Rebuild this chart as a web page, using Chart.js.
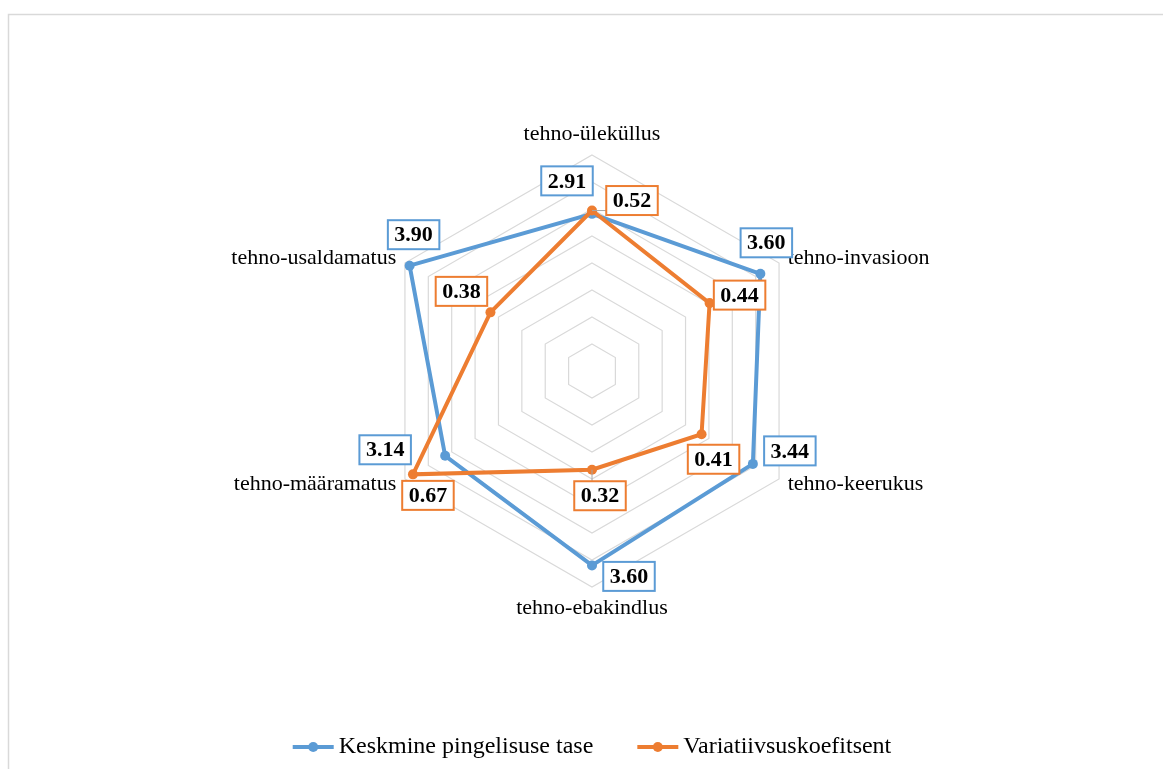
<!DOCTYPE html>
<html lang="et">
<head>
<meta charset="UTF-8">
<title>Tehnostressi tasemed</title>
<script src="https://cdn.jsdelivr.net/npm/chart.js"></script>
<style>
  body { margin: 0; background: #fff; }
  #wrap { width: 1163px; height: 769px; position: relative; }
</style>
</head>
<body>
<div id="wrap"><canvas id="radar"></canvas></div>
<script>
const categories = ['tehno-üleküllus', 'tehno-invasioon', 'tehno-keerukus', 'tehno-ebakindlus', 'tehno-määramatus', 'tehno-usaldamatus'];
const meanLevel = [2.91, 3.60, 3.44, 3.60, 3.14, 3.90];
const variation = [0.52, 0.44, 0.41, 0.32, 0.67, 0.38];
const seriesNames = ['Keskmine pingelisuse tase', 'Variatiivsuskoefitsent'];
// axis ranges: mean level on the main axis, coefficient on a hidden second one
const meanAxis = { min: 0, max: 4, step: 0.5 };
const variationAxis = { min: 0, max: 0.7 };

const BLUE = '#5B9BD5';
const ORANGE = '#ED7D31';
const GRID = '#D9D9D9';
const SERIF = '"Liberation Serif", "Times New Roman", serif';

// where each value box sits relative to its point: [dx, dy, leader line?]
const meanBoxPos = [[-25, -33, 0], [6, -31, 0], [37, -13, 0], [37, 11, 0], [-60, -6, 0], [4, -31, 0]];
const variationBoxPos = [[40, -10, 1], [30, -8, 0], [12, 25, 0], [8, 26, 1], [15, 21, 0], [-29, -21, 0]];

function drawValueBoxes(chart, dsIndex, values, pos, color) {
    const ctx = chart.ctx;
    const meta = chart.getDatasetMeta(dsIndex);
    ctx.font = 'bold 22px ' + SERIF;
    meta.data.forEach((pt, i) => {
        const text = values[i].toFixed(2);
        const w = ctx.measureText(text).width + 13;
        const h = 29;
        const cx = pt.x + pos[i][0];
        const cy = pt.y + pos[i][1];
        const x0 = cx - w / 2, y0 = cy - h / 2;
        if (pos[i][2]) {
            const qx = Math.min(Math.max(pt.x, x0), x0 + w);
            const qy = Math.min(Math.max(pt.y, y0), y0 + h);
            ctx.strokeStyle = '#A6A6A6';
            ctx.lineWidth = 1;
            ctx.beginPath();
            ctx.moveTo(pt.x, pt.y);
            ctx.lineTo(qx, qy);
            ctx.stroke();
        }
        ctx.fillStyle = '#fff';
        ctx.fillRect(x0, y0, w, h);
        ctx.strokeStyle = color;
        ctx.lineWidth = 2;
        ctx.strokeRect(x0, y0, w, h);
        ctx.fillStyle = '#000';
        ctx.textAlign = 'center';
        ctx.textBaseline = 'middle';
        ctx.fillText(text, cx, cy + 1);
    });
}

const decor = {
    id: 'decor',
    beforeDraw(chart) {
        const ctx = chart.ctx;
        ctx.save();
        ctx.strokeStyle = GRID;
        ctx.lineWidth = 1.5;
        ctx.strokeRect(8.5, 14.5, 1400, 1000);
        ctx.restore();
    },
    afterDatasetsDraw(chart) {
        const ctx = chart.ctx;
        const r = chart.scales.r;
        ctx.save();

        // category names around the web
        ctx.font = '22px ' + SERIF;
        ctx.fillStyle = '#000';
        ctx.textBaseline = 'middle';
        categories.forEach((name, i) => {
            const deg = Math.round(r.getIndexAngle(i) * 180 / Math.PI) % 360;
            let pad = 10, align = 'center';
            if (deg === 0 || deg === 180) pad = 21;
            else align = deg < 180 ? 'left' : 'right';
            const p = r.getPointPosition(i, r.drawingArea + pad);
            ctx.textAlign = align;
            ctx.fillText(name, p.x, p.y);
        });

        drawValueBoxes(chart, 0, meanLevel, meanBoxPos, BLUE);
        drawValueBoxes(chart, 1, variation, variationBoxPos, ORANGE);

        // legend
        ctx.font = '24px ' + SERIF;
        const colors = [BLUE, ORANGE];
        const lineLen = 41, gapText = 5, gapItem = 44, ly = 747;
        const widths = seriesNames.map(n => lineLen + gapText + ctx.measureText(n).width);
        const total = widths[0] + widths[1] + gapItem;
        let x = r.xCenter - total / 2;
        seriesNames.forEach((name, i) => {
            ctx.strokeStyle = colors[i];
            ctx.lineWidth = 4;
            ctx.beginPath();
            ctx.moveTo(x, ly);
            ctx.lineTo(x + lineLen, ly);
            ctx.stroke();
            ctx.fillStyle = colors[i];
            ctx.beginPath();
            ctx.arc(x + lineLen / 2, ly, 5, 0, Math.PI * 2);
            ctx.fill();
            ctx.fillStyle = '#000';
            ctx.textAlign = 'left';
            ctx.textBaseline = 'middle';
            ctx.fillText(name, x + lineLen + gapText, ly);
            x += widths[i] + gapItem;
        });
        ctx.restore();
    }
};

new Chart(document.getElementById('radar'), {
    type: 'radar',
    data: {
        labels: categories,
        datasets: [{
            label: seriesNames[0],
            data: meanLevel,
            rAxisID: 'r',
            borderColor: BLUE,
            backgroundColor: BLUE,
            pointBackgroundColor: BLUE,
            pointBorderWidth: 0,
            pointRadius: 5,
            borderWidth: 4,
            fill: false,
            order: 1
        }, {
            label: seriesNames[1],
            data: variation,
            rAxisID: 'r2',
            borderColor: ORANGE,
            backgroundColor: ORANGE,
            pointBackgroundColor: ORANGE,
            pointBorderWidth: 0,
            pointRadius: 5,
            borderWidth: 4,
            fill: false,
            order: 0
        }]
    },
    options: {
        responsive: true,
        maintainAspectRatio: false,
        animation: false,
        layout: { padding: { left: 376, right: 355, top: 155, bottom: 182 } },
        plugins: {
            legend: { display: false },
            tooltip: { enabled: false }
        },
        scales: {
            r: {
                min: meanAxis.min,
                max: meanAxis.max,
                ticks: { display: false, stepSize: meanAxis.step },
                grid: { color: GRID, lineWidth: 1.2 },
                angleLines: { display: false },
                pointLabels: { display: false }
            },
            r2: {
                type: 'radialLinear',
                axis: 'r',
                min: variationAxis.min,
                max: variationAxis.max,
                ticks: { display: false },
                grid: { display: false },
                angleLines: { display: false },
                pointLabels: { display: false }
            }
        }
    },
    plugins: [decor]
});
</script>
</body>
</html>
